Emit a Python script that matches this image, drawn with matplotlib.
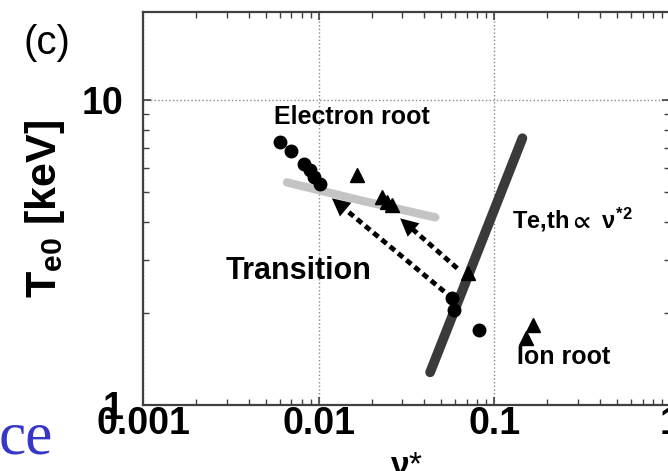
import numpy as np
import matplotlib
matplotlib.use('Agg')
import matplotlib.pyplot as plt

plt.rcParams['font.family'] = ['Liberation Sans', 'DejaVu Sans']
plt.rcParams['font.weight'] = 'bold'
plt.rcParams['mathtext.fontset'] = 'custom'
plt.rcParams['mathtext.rm'] = 'Liberation Sans:bold'
plt.rcParams['mathtext.bf'] = 'Liberation Sans:bold'
plt.rcParams['mathtext.it'] = 'Liberation Sans:bold'
plt.rcParams['mathtext.fallback'] = 'stixsans'

# electron root circles
circ_nu = [0.0060, 0.0070, 0.0082, 0.0089, 0.0094, 0.0102]
circ_te = [7.3, 6.8, 6.2, 5.9, 5.6, 5.3]
# circles at the transition line and ion side
circ2_nu = [0.0577, 0.0592, 0.0823]
circ2_te = [2.24, 2.05, 1.76]
# triangles
tri_nu = [0.0166, 0.0230, 0.0245, 0.0262, 0.0711, 0.165, 0.152]
tri_te = [5.68, 4.80, 4.65, 4.53, 2.71, 1.83, 1.66]

# electron root fit (light gray)
fit_nu = [0.0066, 0.0172, 0.0461]
fit_te = [5.38, 4.70, 4.13]
# Te,th ~ nu*^2 line
th_nu = [0.0431, 0.1445]
th_te = [1.28, 7.51]

# transition arrows: (tail, tip)
arrows = [((0.0577, 2.24), (0.0119, 4.77)),
          ((0.0615, 2.81), (0.0291, 4.10))]

fig = plt.figure(figsize=(6.68, 4.71), dpi=100)
ax = fig.add_axes([143/668, 66/471, 527/668, 393/471])
ax.set_xscale('log')
ax.set_yscale('log')
ax.set_xlim(0.001, 1)
ax.set_ylim(1, 19.5)

ax.plot(fit_nu, fit_te, color='#c4c4c4', lw=6, solid_capstyle='round', zorder=2)
ax.plot(th_nu, th_te, color='#3a3a3a', lw=7, solid_capstyle='round', zorder=3)

for (x0, y0), (x1, y1) in arrows:
    # dotted shaft, stop slightly before tip
    xs = [x0, x0 * (x1 / x0) ** 0.88]
    ys = [y0, y0 * (y1 / y0) ** 0.88]
    ax.plot(xs, ys, color='black', lw=3.5, linestyle=(0, (1.3, 0.9)), zorder=4)
    ax.annotate('', xy=(x1, y1), xytext=(xs[1], ys[1]),
                arrowprops=dict(arrowstyle='-|>', color='black', lw=0,
                                mutation_scale=32, shrinkA=0, shrinkB=0),
                zorder=5)

ax.plot(circ_nu, circ_te, 'o', color='black', ms=9, zorder=6)
ax.plot(circ2_nu, circ2_te, 'o', color='black', ms=9, zorder=6)
ax.plot(tri_nu, tri_te, '^', color='black', ms=9.5, zorder=6)

ax.grid(True, which='major', color='#888888', linestyle=':', lw=1)
ax.set_xticks([0.001, 0.01, 0.1, 1])
ax.set_xticklabels(['0.001', '0.01', '0.1', '1'])
ax.set_yticks([1, 10])
ax.set_yticklabels(['1', '10'])
ax.tick_params(which='both', direction='in', top=True, right=True, colors='#404040')
ax.tick_params(which='major', length=6, width=1.2, labelsize=27, labelcolor='black')
ax.tick_params(which='minor', length=4, width=1)
ax.tick_params(axis='x', which='major', pad=1)
ax.tick_params(axis='y', which='major', pad=14)
for s in ax.spines.values():
    s.set_color('#404040')
    s.set_linewidth(1.6)

ax.set_xlabel(r'$\nu$*', fontsize=24, labelpad=6)
fig.text(45/668, 1 - 209/471, r'T$_{\mathregular{e0}}$ [keV]', rotation=90,
         ha='center', va='center', fontsize=31)
fig.text(47/668, 1 - 43/471, '(c)', ha='center', va='center', fontsize=29,
         fontweight='normal')

ax.text(0.0155, 10**((405 - 117) / 305), 'Electron root', ha='center', va='center', fontsize=18)
ax.text(10**(-3 + (298 - 143) / 175.5), 10**((405 - 271) / 305), 'Transition',
        ha='center', va='center', fontsize=22)
ax.text(10**(-3 + (512 - 143) / 175.5), 10**((405 - 220) / 305),
        r'Te,th$\propto$ $\nu^{*2}$', ha='left', va='center', fontsize=17)
ax.text(10**(-3 + (563 - 143) / 175.5), 10**((405 - 357) / 305), 'Ion root',
        ha='center', va='center', fontsize=18)

fig.text(53/668, 1 - 453/471, 'ce', ha='right', va='baseline', fontsize=44,
         family='Liberation Serif', fontweight='normal', color='#3636c8')

fig.savefig('out.png', dpi=100)
